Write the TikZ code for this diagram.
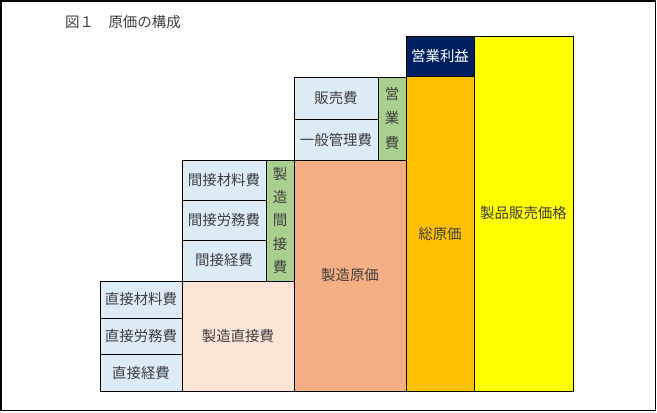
\documentclass[tikz,border=0pt]{standalone}
\usepackage{fontspec}
\newfontfamily\jp{Noto Sans CJK JP}
\definecolor{lblue}{HTML}{DDEBF7}
\definecolor{lgreen}{HTML}{A9D08E}
\definecolor{lpeach}{HTML}{FCE4D6}
\definecolor{salmon}{HTML}{F4B084}
\definecolor{gold}{HTML}{FFC000}
\definecolor{yel}{HTML}{FFFF00}
\definecolor{navy}{HTML}{002060}
\definecolor{txt}{HTML}{404040}
\tikzset{
  box/.style={draw=black, line width=0.9bp, inner sep=0pt, outer sep=0pt,
    font=\jp\fontsize{14.5}{17}\selectfont, text=txt, align=center},
  vbox/.style={box, font=\jp\fontsize{14.5}{#1}\selectfont},
}
\begin{document}
\begin{tikzpicture}[x=1bp,y=-1bp]
\useasboundingbox (0,0) rectangle (657,412);
\draw[line width=1.5bp, black] (1,1) rectangle (655.5,410.5);
\node[anchor=west, font=\jp\fontsize{14.5}{17}\selectfont, text=txt, inner sep=0pt] (title) at (65,22) {図１　原価の構成};
% direct costs
\node[box, fill=lblue, minimum width=82bp, minimum height=37bp] (d1) at (141,299.5) {直接材料費};
\node[box, fill=lblue, minimum width=82bp, minimum height=36bp] (d2) at (141,336) {直接労務費};
\node[box, fill=lblue, minimum width=82bp, minimum height=37bp] (d3) at (141,372.5) {直接経費};
\node[box, fill=lpeach, minimum width=112bp, minimum height=110bp] (mdc) at (238,336) {製造直接費};
% indirect costs
\node[box, fill=lblue, minimum width=84bp, minimum height=40bp] (i1) at (224,180) {間接材料費};
\node[box, fill=lblue, minimum width=84bp, minimum height=40bp] (i2) at (224,220) {間接労務費};
\node[box, fill=lblue, minimum width=84bp, minimum height=41bp] (i3) at (224,260.5) {間接経費};
\node[vbox=23.5, fill=lgreen, minimum width=28bp, minimum height=121bp] (moh) at (280,220.5) {製\\造\\間\\接\\費};
% manufacturing cost
\node[box, fill=salmon, minimum width=112bp, minimum height=231bp] (mc) at (350,275.5) {製造原価};
% selling & admin
\node[box, fill=lblue, minimum width=84bp, minimum height=42bp] (s1) at (336,98) {販売費};
\node[box, fill=lblue, minimum width=84bp, minimum height=41bp] (s2) at (336,139.5) {一般管理費};
\node[vbox=25, fill=lgreen, minimum width=28bp, minimum height=83bp] (op) at (392,118.5) {営\\業\\費};
% total cost, profit, price
\node[box, fill=gold, minimum width=68bp, minimum height=315bp] (tc) at (440,233.5) {総原価};
\node[box, fill=navy, text=white, minimum width=68bp, minimum height=40bp] (pr) at (440,56) {営業利益};
\node[box, fill=yel, minimum width=99bp, minimum height=355bp] (sp) at (523.5,213.5) {製品販売価格};
\end{tikzpicture}
\end{document}
